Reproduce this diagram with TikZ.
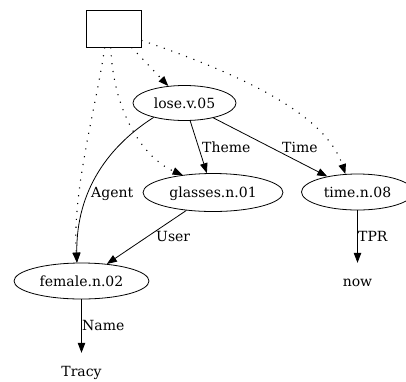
\documentclass[tikz,border=0pt]{standalone}
\usepackage{fontspec}
\setmainfont{DejaVu Serif}
\usetikzlibrary{arrows.meta,shapes.geometric}
\begin{document}
\begin{tikzpicture}[x=1pt,y=-1pt,
  every node/.style={font=\fontsize{14}{16}\selectfont, inner sep=0pt},
  concept/.style={draw, ellipse, line width=0.8pt, text height=11pt, text depth=1pt},
  leaf/.style={inner ysep=13pt, text height=10pt, text depth=3pt},
  rel/.style={draw, line width=0.8pt, -{Triangle[length=10pt,width=7.5pt]}},
  anchorlink/.style={rel, line width=1.1pt, dash pattern=on 1.1pt off 6.8pt},
  lbl/.style={anchor=base west}]
\useasboundingbox (0,0) rectangle (406,381);

% top box and concept nodes
\node[draw, line width=0.8pt, minimum width=55pt, minimum height=37pt] (root) at (113.5,28.5) {};
\node[concept, minimum width=103pt, minimum height=35pt] (lose) at (184.5,103) {lose.v.05};
\node[concept, minimum width=140pt, minimum height=38pt] (glasses) at (213,192.5) {glasses.n.01};
\node[concept, minimum width=112pt, minimum height=36pt] (time) at (357.5,192) {time.n.08};
\node[concept, minimum width=135pt, minimum height=36pt] (female) at (81.5,281) {female.n.02};

% plain leaves
\node[leaf] (now) at (357.5,282.5) {now};
\node[leaf] (tracy) at (81.5,372.5) {Tracy};

% dotted links from the box
\draw[anchorlink] (root) -- (lose);
\draw[anchorlink] (root.-98) .. controls +(2,63) and +(-40,-17) .. (glasses.150);
\draw[anchorlink] (root.-115) .. controls +(-7,53) and +(-5,-73) .. (female.104);
\draw[anchorlink] (root.-23) .. controls +(100,34) and +(-20,-60) .. (time.124);

% role edges
\draw[rel] (lose) -- (glasses);
\draw[rel] (lose) -- (time);
\draw[rel] (lose.205) .. controls +(-44,28) and +(-1,-73) .. (female.104);
\draw[rel] (glasses) -- (female);
\draw[rel] (time) -- (now);
\draw[rel] (female) -- (tracy);

% role labels
\node[lbl] (lAgent) at (91,197.3) {Agent};
\node[lbl] (lTheme) at (202,152.3) {Theme};
\node[lbl] (lTime) at (282,152.3) {Time};
\node[lbl] (lUser) at (156,241.7) {User};
\node[lbl] (lTPR) at (358,241.7) {TPR};
\node[lbl] (lName) at (82,330.7) {Name};
\end{tikzpicture}
\end{document}
